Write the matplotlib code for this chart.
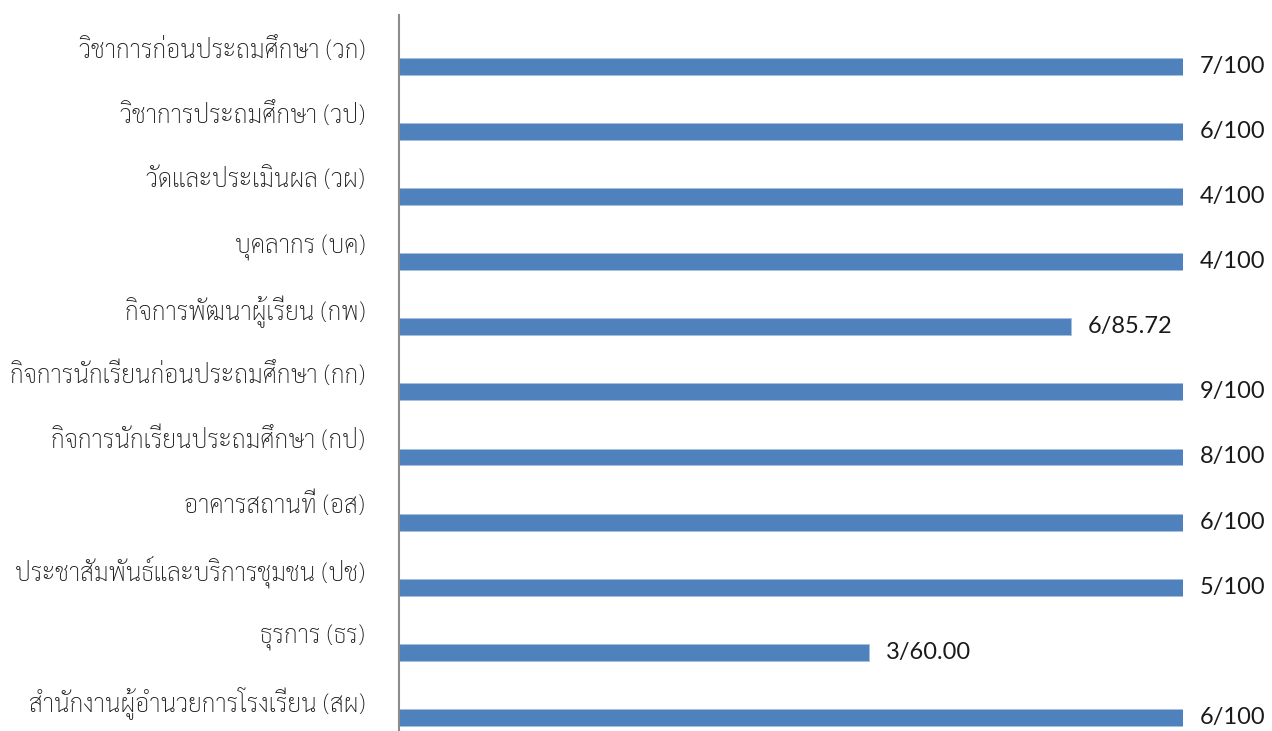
import matplotlib
matplotlib.use("Agg")
import matplotlib.pyplot as plt

categories = [
    "วิชาการก่อนประถมศึกษา (วก)",
    "วิชาการประถมศึกษา (วป)",
    "วัดและประเมินผล (วผ)",
    "บุคลากร (บค)",
    "กิจการพัฒนาผู้เรียน (กพ)",
    "กิจการนักเรียนก่อนประถมศึกษา (กก)",
    "กิจการนักเรียนประถมศึกษา (กป)",
    "อาคารสถานที่ (อส)",
    "ประชาสัมพันธ์และบริการชุมชน (ปช)",
    "ธุรการ (ธร)",
    "สำนักงานผู้อำนวยการโรงเรียน (สผ)",
]
values = [100, 100, 100, 100, 85.72, 100, 100, 100, 100, 60.00, 100]
value_labels = ["7/100", "6/100", "4/100", "4/100", "6/85.72", "9/100",
                "8/100", "6/100", "5/100", "3/60.00", "6/100"]

thai_fams = ["Sarabun", "Noto Sans Thai Looped", "Loma", "DejaVu Sans"]

fig = plt.figure(figsize=(12.72, 7.31), dpi=100)
ax = fig.add_axes([399/1272, 0.0, 784/1272, 716/731])

n = len(categories)
ypos = list(range(n))
offset = 0.29
ax.barh([y + offset for y in ypos], values, height=0.26, color="#4F81BD",
        edgecolor="#A7BFDE", linewidth=0.6)

ax.set_xlim(0, 100)
ax.set_ylim(n - 0.5, -0.5)
ax.set_yticks(ypos)
ax.set_yticklabels(categories, family=thai_fams, fontsize=17.7, fontweight="light",
                   color="#1a1a1a")
ax.tick_params(axis="y", length=0, pad=24.5)
ax.set_xticks([])
for s in ["top", "right", "bottom"]:
    ax.spines[s].set_visible(False)
ax.spines["left"].set_color("#8c8c8c")
ax.spines["left"].set_linewidth(1.5)

for y, v, lab in zip(ypos, values, value_labels):
    ax.annotate(lab, xy=(v, y + offset), xytext=(12, 0), textcoords="offset points",
                ha="left", va="center", fontsize=17,
                family=["Lato", "DejaVu Sans"], color="#1a1a1a",
                annotation_clip=False)

fig.savefig("out.png", dpi=100)
